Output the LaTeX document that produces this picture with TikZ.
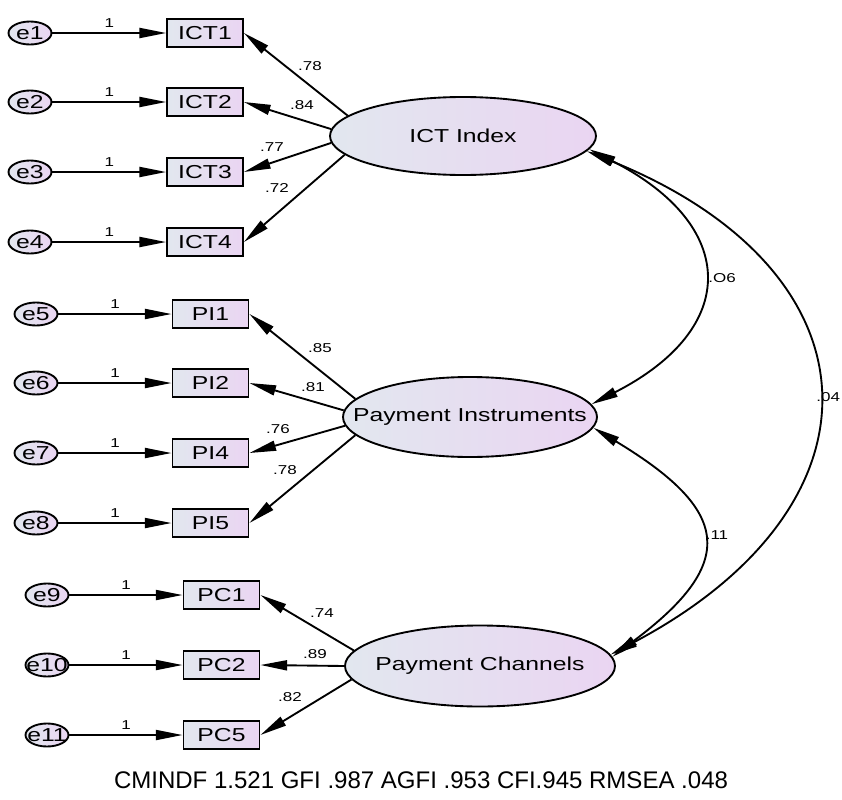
\documentclass[tikz,border=0pt]{standalone}
\usepackage{fontspec}
\setmainfont{Liberation Sans}
\newfontfamily\amosfont[FakeStretch=1.32]{Liberation Sans}
\usetikzlibrary{shapes.geometric,arrows.meta}
\definecolor{amosblue}{RGB}{226,231,239}
\definecolor{amoslilac}{RGB}{234,213,242}
\newcommand{\nowd}[1]{\makebox[0pt]{#1}}
\tikzset{
    shadefill/.style={draw, left color=amosblue, right color=amoslilac, inner sep=0pt, font=\amosfont\fontsize{16}{18}\selectfont},
    obsbox/.style={shadefill, rectangle, minimum width=22.8mm, minimum height=8.4mm},
    latent/.style={shadefill, ellipse},
    errvar/.style={shadefill, ellipse, minimum width=12.9mm, minimum height=6.9mm},
    coef/.style={inner sep=0pt, font=\amosfont\fontsize{11}{13}\selectfont}
}
\begin{document}
\begin{tikzpicture}[x=0.3mm, y=-0.3mm, line width=1.6pt, >={Triangle[length=8mm, width=3mm]}]
    \useasboundingbox (0,0) rectangle (842,800);

    \node[latent, minimum width=79.8mm, minimum height=23.4mm] (ict) at (463,136) {\nowd{ICT Index}};
    \node[latent, minimum width=76.2mm, minimum height=24mm] (pi) at (470,417) {\nowd{Payment Instruments}};
    \node[latent, minimum width=81mm, minimum height=24.3mm] (pc) at (480,666) {\nowd{Payment Channels}};

    \node[obsbox] (ict1) at (205,33) {ICT1};
    \node[obsbox] (ict2) at (205,102) {ICT2};
    \node[obsbox] (ict3) at (205,172) {ICT3};
    \node[obsbox] (ict4) at (205,242) {ICT4};
    \node[obsbox] (pi1) at (210.5,314) {PI1};
    \node[obsbox] (pi2) at (210.5,383) {PI2};
    \node[obsbox] (pi4) at (210.5,453) {PI4};
    \node[obsbox] (pi5) at (210.5,523) {PI5};
    \node[obsbox] (pc1) at (221.5,595) {PC1};
    \node[obsbox] (pc2) at (221.5,665) {PC2};
    \node[obsbox] (pc5) at (221.5,735) {PC5};

    \node[errvar] (e1) at (30,33) {\nowd{e1}};
    \node[errvar] (e2) at (30,102) {\nowd{e2}};
    \node[errvar] (e3) at (30,172) {\nowd{e3}};
    \node[errvar] (e4) at (30,242) {\nowd{e4}};
    \node[errvar] (e5) at (36,314) {\nowd{e5}};
    \node[errvar] (e6) at (36,383) {\nowd{e6}};
    \node[errvar] (e7) at (36,453) {\nowd{e7}};
    \node[errvar] (e8) at (36,523) {\nowd{e8}};
    \node[errvar] (e9) at (47,595) {\nowd{e9}};
    \node[errvar] (e10) at (47,665) {\nowd{e10}};
    \node[errvar] (e11) at (47,735) {\nowd{e11}};

    \draw[->] (e1) -- node[coef, above=4pt] {1} (ict1);
    \draw[->] (e2) -- node[coef, above=4pt] {1} (ict2);
    \draw[->] (e3) -- node[coef, above=4pt] {1} (ict3);
    \draw[->] (e4) -- node[coef, above=4pt] {1} (ict4);
    \draw[->] (e5) -- node[coef, above=4pt] {1} (pi1);
    \draw[->] (e6) -- node[coef, above=4pt] {1} (pi2);
    \draw[->] (e7) -- node[coef, above=4pt] {1} (pi4);
    \draw[->] (e8) -- node[coef, above=4pt] {1} (pi5);
    \draw[->] (e9) -- node[coef, above=4pt] {1} (pc1);
    \draw[->] (e10) -- node[coef, above=4pt] {1} (pc2);
    \draw[->] (e11) -- node[coef, above=4pt] {1} (pc5);

    \draw[->] (ict.170) -- (ict1.east);
    \draw[->] (ict.177) -- (ict2.east);
    \draw[->] (ict.183) -- (ict3.east);
    \draw[->] (ict.189) -- (ict4.east);
    \draw[->] (pi.171.5) -- (pi1.east);
    \draw[->] (pi.177) -- (pi2.east);
    \draw[->] (pi.184.5) -- (pi4.east);
    \draw[->] (pi.189) -- (pi5.east);
    \draw[->] (pc.173) -- (pc1.east);
    \draw[->] (pc.180) -- (pc2.east);
    \draw[->] (pc.186) -- (pc5.east);

    \node[coef] (w1) at (310,66) {.78};
    \node[coef] (w2) at (302,105) {.84};
    \node[coef] (w3) at (272,147) {.77};
    \node[coef] (w4) at (277,188) {.72};
    \node[coef] (w5) at (320,348) {.85};
    \node[coef] (w6) at (313,387) {.81};
    \node[coef] (w7) at (278,429) {.76};
    \node[coef] (w8) at (285,470) {.78};
    \node[coef] (w9) at (322,613) {.74};
    \node[coef] (w10) at (315,654) {.89};
    \node[coef] (w11) at (290,697) {.82};

    \draw[<->] (ict.-6) .. controls +(149,76) and +(149,-76) .. (pi.6);
    \draw[<->] (pi.-5) .. controls +(136,82) and +(127,-95) .. (pc.4);
    \draw[<->] (ict.-7) .. controls +(297,120) and +(283,-150) .. (pc.5);
    \node[coef] (r1) at (722,278) {.O6};
    \node[coef] (r2) at (717,535) {.11};
    \node[coef, anchor=east] (r3) at (841,397) {.04};

    \node (fitline) at (421,780) {\fontsize{20.5}{23}\selectfont CMINDF 1.521 GFI .987 AGFI .953 CFI.945 RMSEA .048};
\end{tikzpicture}
\end{document}
